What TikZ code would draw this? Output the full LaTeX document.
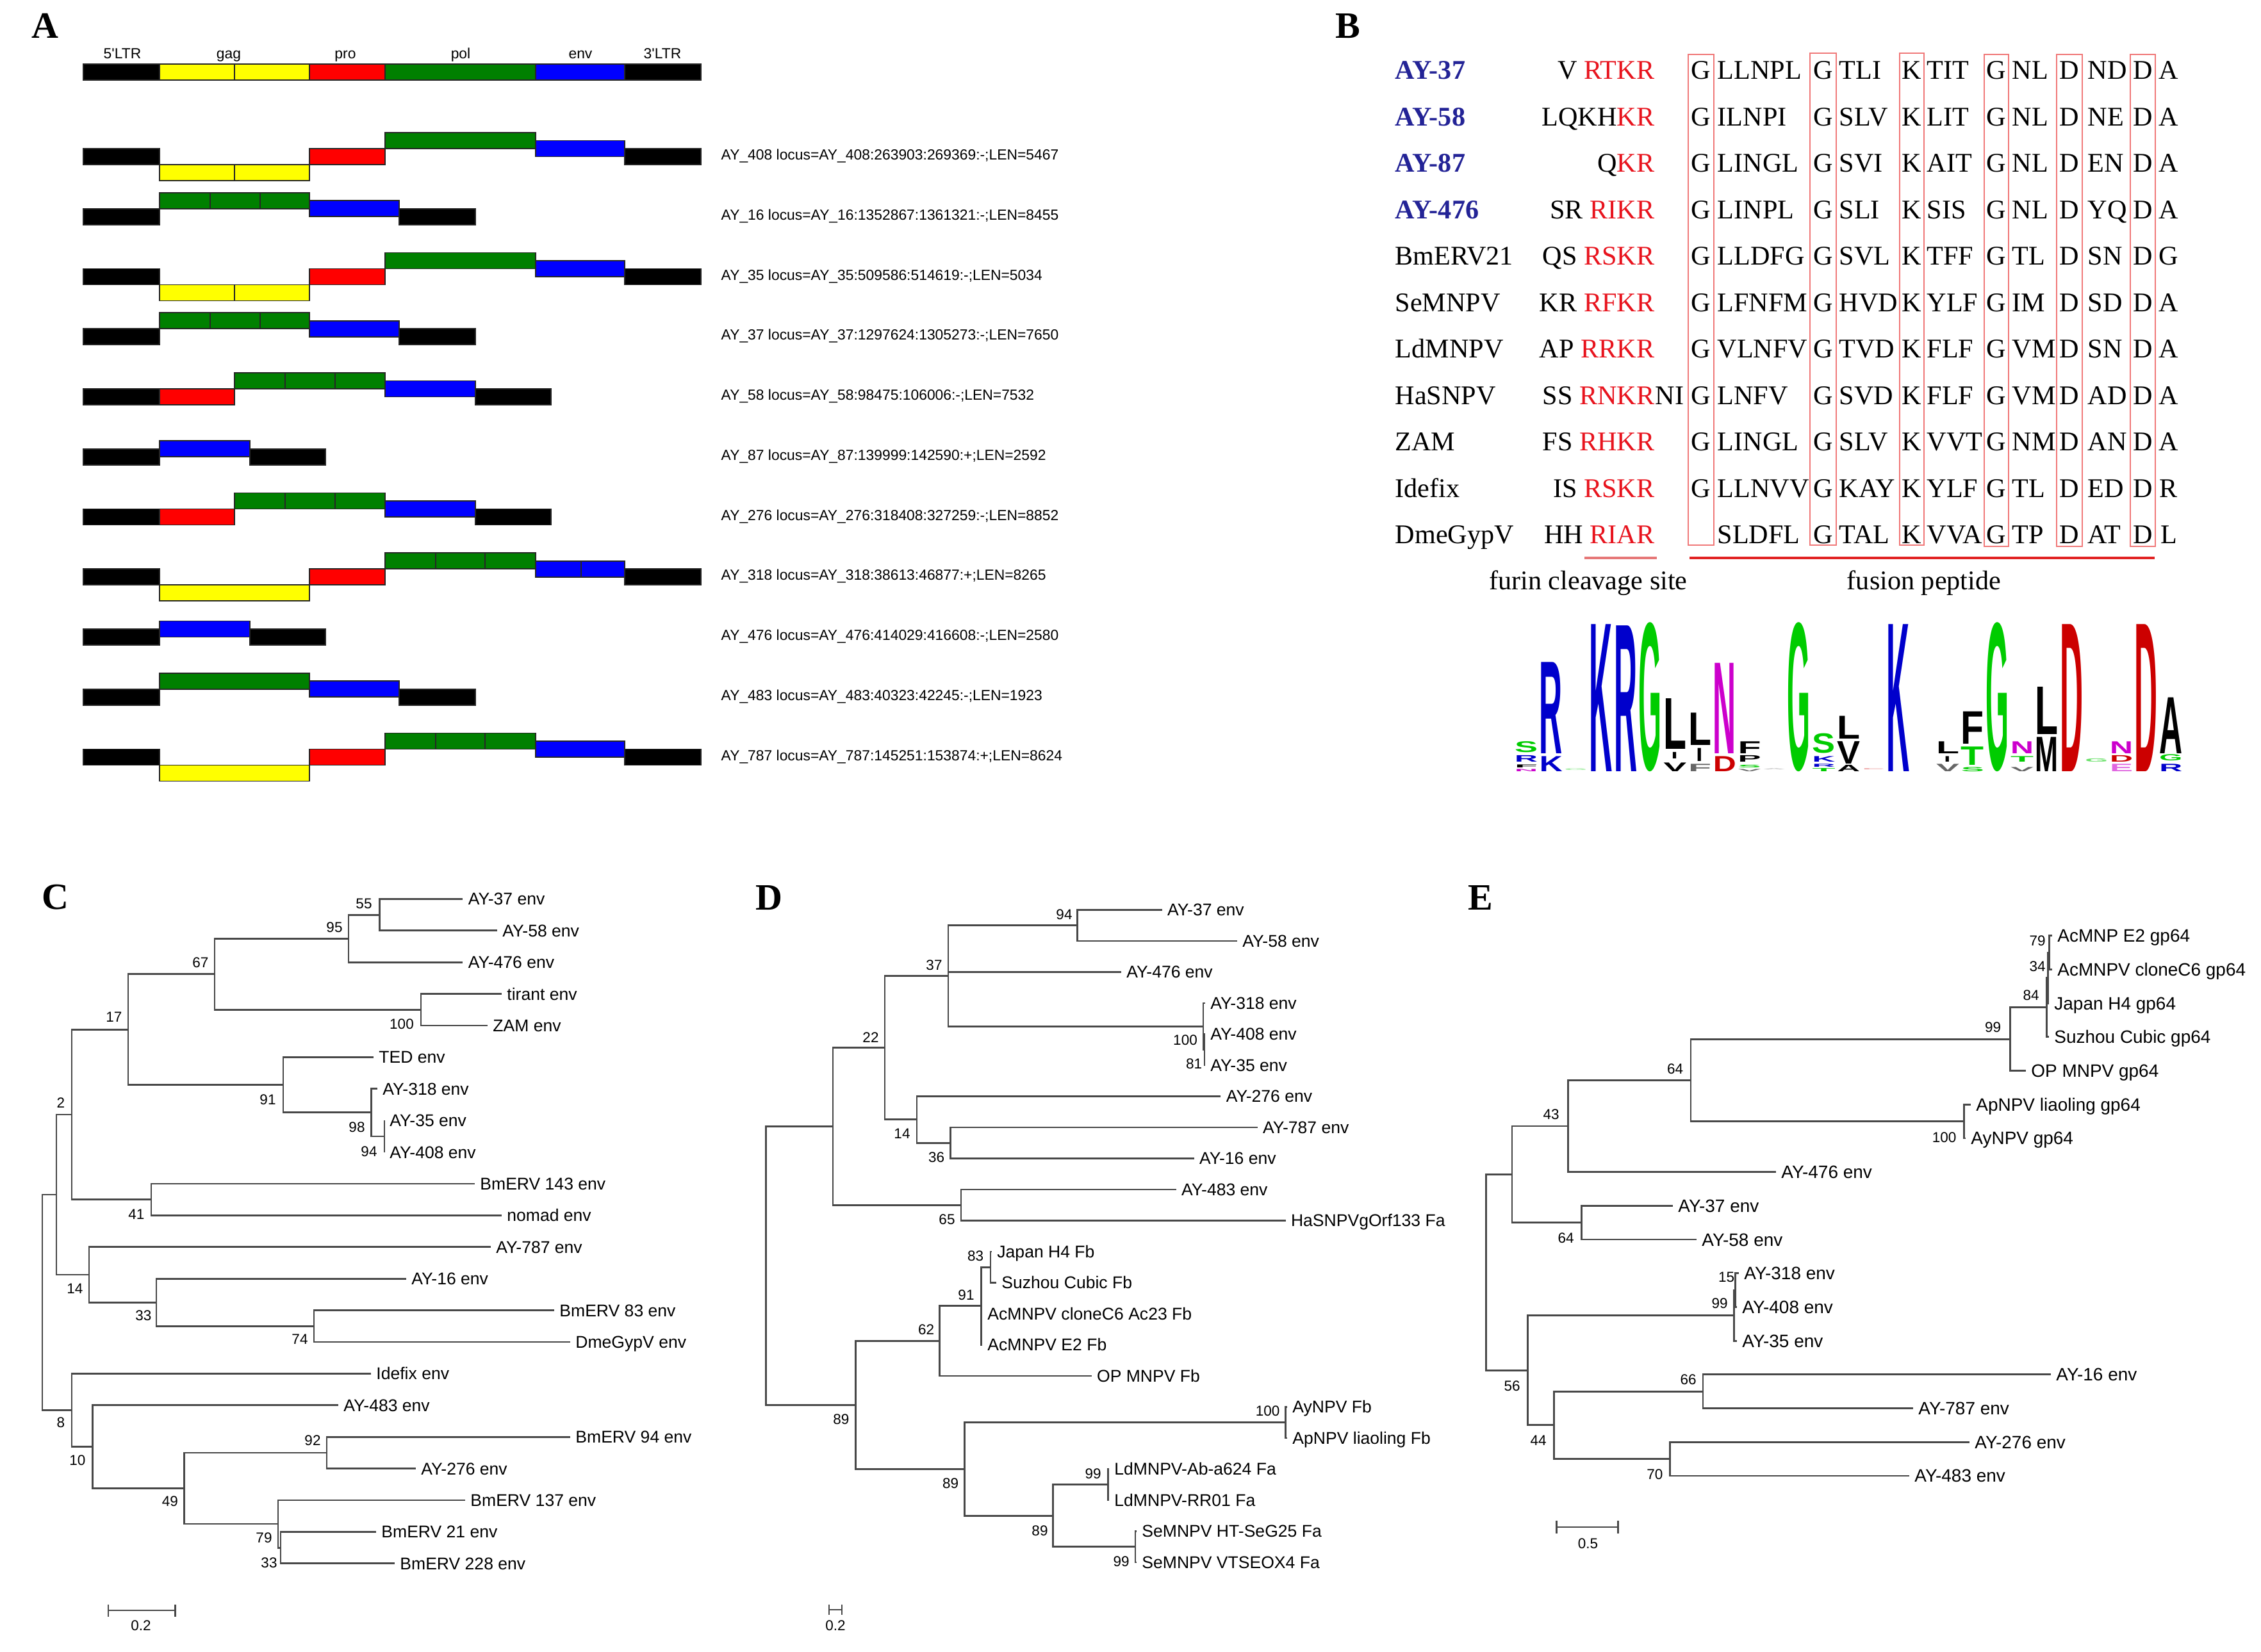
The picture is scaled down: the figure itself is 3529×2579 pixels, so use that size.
\documentclass[tikz,border=0pt]{standalone}
\usepackage{fontspec}
\usepackage{graphicx}
\setmainfont{Liberation Serif}
\newfontfamily\arialf{Liberation Sans}
\usetikzlibrary{calc}
\definecolor{gyel}{RGB}{255,255,0}
\definecolor{gred}{RGB}{255,0,0}
\definecolor{ggrn}{RGB}{0,128,0}
\definecolor{gblu}{RGB}{0,0,255}
\definecolor{bnavy}{RGB}{35,35,150}
\definecolor{fred}{RGB}{232,20,30}
\definecolor{boxred}{RGB}{240,120,120}
\definecolor{lnred}{RGB}{225,35,35}
\definecolor{lnpink}{RGB}{230,120,120}
\definecolor{trc}{RGB}{72,72,72}
\definecolor{lgB}{RGB}{0,0,204}
\definecolor{lgG}{RGB}{0,204,0}
\definecolor{lgR}{RGB}{204,0,0}
\definecolor{lgM}{RGB}{204,0,204}
\newcommand\fA{\arialf\fontsize{6.5}{7.5}\selectfont}
\newcommand\fT{\arialf\fontsize{7.55}{9}\selectfont}
\newcommand\fE{\arialf\fontsize{7.95}{9}\selectfont}
\newcommand\fBs{\arialf\fontsize{6.4}{7.5}\selectfont}
\newcommand\fB{\fontsize{12}{14}\selectfont}
\newcommand\fL{\bfseries\fontsize{16.5}{18}\selectfont}
\newcommand\lgf{\arialf\bfseries}
\newcommand\furR[1]{\textcolor{fred}{#1}}
% panel A boxes
\newcommand\bx[4]{\filldraw[gbox,fill=#4] (#1,#3) rectangle (#2,#3+25);}
\newcommand\dv[2]{\draw[gbox] (#1,#2) -- (#1,#2+25);}
\newcommand\trI[1]{\bx{130}{249}{#1}{black}\bx{249}{483}{#1+25}{gyel}\dv{366}{#1+25}\bx{483}{601}{#1}{gred}\bx{601}{836}{#1-25}{ggrn}\bx{836}{975}{#1-12.5}{gblu}\bx{975}{1094}{#1}{black}}
\newcommand\trII[1]{\bx{130}{249}{#1}{black}\bx{249}{483}{#1-25}{ggrn}\dv{328}{#1-25}\dv{406}{#1-25}\bx{483}{623}{#1-12.5}{gblu}\bx{623}{742}{#1}{black}}
\newcommand\trIII[1]{\bx{130}{249}{#1}{black}\bx{249}{366}{#1}{gred}\bx{366}{601}{#1-25}{ggrn}\dv{445}{#1-25}\dv{523}{#1-25}\bx{601}{742}{#1-12.5}{gblu}\bx{742}{860}{#1}{black}}
\newcommand\trIV[1]{\bx{130}{249}{#1}{black}\bx{249}{390}{#1-12.5}{gblu}\bx{390}{508}{#1}{black}}
\newcommand\trV[1]{\bx{130}{249}{#1}{black}\bx{249}{483}{#1+25}{gyel}\bx{483}{601}{#1}{gred}\bx{601}{836}{#1-25}{ggrn}\dv{680}{#1-25}\dv{757}{#1-25}\bx{836}{975}{#1-12.5}{gblu}\dv{907}{#1-12.5}\bx{975}{1094}{#1}{black}}
\newcommand\trVI[1]{\bx{130}{249}{#1}{black}\bx{249}{483}{#1-25}{ggrn}\bx{483}{623}{#1-12.5}{gblu}\bx{623}{742}{#1}{black}}
\newcommand\trVII[1]{\bx{130}{249}{#1}{black}\bx{249}{483}{#1+25}{gyel}\bx{483}{601}{#1}{gred}\bx{601}{836}{#1-25}{ggrn}\dv{680}{#1-25}\dv{757}{#1-25}\bx{836}{975}{#1-12.5}{gblu}\bx{975}{1094}{#1}{black}}
% panel B sequence columns
\newcommand\bseqA[8]{%
 \node[bt,anchor=base] (#1g1) at (2655,#2) {#3};
 \node[bt,anchor=base west] (#1s1) at (2680,#2) {#4};
 \node[bt,anchor=base] (#1g2) at (2845.5,#2) {#5};
 \node[bt,anchor=base west] (#1s2) at (2870,#2) {#6};
 \node[bt,anchor=base] (#1g3) at (2984,#2) {#7};
 \node[bt,anchor=base west] (#1s3) at (3007,#2) {#8};}
\newcommand\bseqB[8]{%
 \node[bt,anchor=base] (#1g4) at (3116,#2) {#3};
 \node[bt,anchor=base west] (#1s4) at (3140,#2) {#4};
 \node[bt,anchor=base] (#1g5) at (3230,#2) {#5};
 \node[bt,anchor=base west] (#1s5) at (3258,#2) {#6};
 \node[bt,anchor=base] (#1g6) at (3344.5,#2) {#7};
 \node[bt,anchor=base] (#1s6) at (3385,#2) {#8};}
% logo letters
\newcount\lgc
\newcommand\lgl[5]{%
 \global\advance\lgc by 1
 \pgfmathsetmacro\lgx{2362+38.7*(#1-1)+1.5}%
 \pgfmathsetmacro\lgh{max(0.01,(#2-#3-1.4)*0.01)}%
 \node[anchor=south west,inner sep=0pt,text=#5] (lg\the\lgc) at (\lgx,#2-0.7) {\resizebox{0.36cm}{\lgh cm}{\lgf #4}};}
\newcommand\lgI[4]{%
 \global\advance\lgc by 1
 \pgfmathsetmacro\lgx{2362+38.7*(#1-1)+19.35}%
 \pgfmathsetmacro\lgh{max(0.01,(#2-#3-1.4)*0.01)}%
 \node[anchor=south,inner sep=0pt,text=#4] (lg\the\lgc) at (\lgx,#2-0.7) {\resizebox{0.1cm}{\lgh cm}{\lgf I}};}
% tree bracket
\newcommand\tn[3]{\draw[tr] (#2) -| (#1) |- (#3);}
\begin{document}
\begin{tikzpicture}[x=0.01cm,y=-0.01cm,
 gbox/.style={draw=black!85,line width=0.45pt},
 alab/.style={anchor=west,inner sep=0pt,font=\fA,text height=4.65pt,text depth=0pt},
 tlab/.style={inner sep=0pt,font=\fA,text height=4.65pt,text depth=0pt},
 plab/.style={inner sep=0pt,font=\fL,text height=11.1pt,text depth=0pt},
 bt/.style={inner sep=0pt,font=\fB},
 rbox/.style={draw=boxred,line width=0.45pt},
 tr/.style={draw=trc,line width=0.8pt},
 labC/.style={anchor=west,inner xsep=2.2pt,inner ysep=0pt,font=\fT,text height=5.4pt,text depth=0pt},
 labE/.style={anchor=west,inner xsep=2.2pt,inner ysep=0pt,font=\fE,text height=5.7pt,text depth=0pt},
 bsn/.style={inner sep=0pt,font=\fBs,text height=4.55pt,text depth=0pt}]
\fill[white] (0,0) rectangle (3529,2579);
\useasboundingbox (0,0) rectangle (3529,2579);

% ---------------- panel letters
\node[plab] (pA) at (70,40) {A};
\node[plab] (pB) at (2104,40) {B};
\node[plab] (pC) at (86,1400) {C};
\node[plab] (pD) at (1200,1401) {D};
\node[plab] (pE) at (2311,1401) {E};

% ---------------- panel A
\node[tlab] (hLTR5) at (191,83) {5\textquotesingle LTR};
\node[tlab] (hgag) at (357,83) {gag};
\node[tlab] (hpro) at (539,83) {pro};
\node[tlab] (hpol) at (719,83) {pol};
\node[tlab] (henv) at (906,83) {env};
\node[tlab] (hLTR3) at (1034,83) {3\textquotesingle LTR};
\bx{130}{249}{100}{black}\bx{249}{483}{100}{gyel}\dv{366}{100}\bx{483}{601}{100}{gred}\bx{601}{836}{100}{ggrn}\bx{836}{975}{100}{gblu}\bx{975}{1094}{100}{black}

\trI{232}
\trII{325.75}
\trI{419.5}
\trII{513.25}
\trIII{607}
\trIV{700.75}
\trIII{794.5}
\trV{888.25}
\trIV{982}
\trVI{1075.75}
\trVII{1169.5}
\node[alab] (a1) at (1125,241.5) {AY\_408 locus=AY\_408:263903:269369:-;LEN=5467};
\node[alab] (a2) at (1125,335.25) {AY\_16 locus=AY\_16:1352867:1361321:-;LEN=8455};
\node[alab] (a3) at (1125,429) {AY\_35 locus=AY\_35:509586:514619:-;LEN=5034};
\node[alab] (a4) at (1125,522.75) {AY\_37 locus=AY\_37:1297624:1305273:-;LEN=7650};
\node[alab] (a5) at (1125,616.5) {AY\_58 locus=AY\_58:98475:106006:-;LEN=7532};
\node[alab] (a6) at (1125,710.25) {AY\_87 locus=AY\_87:139999:142590:+;LEN=2592};
\node[alab] (a7) at (1125,804) {AY\_276 locus=AY\_276:318408:327259:-;LEN=8852};
\node[alab] (a8) at (1125,897.75) {AY\_318 locus=AY\_318:38613:46877:+;LEN=8265};
\node[alab] (a9) at (1125,991.5) {AY\_476 locus=AY\_476:414029:416608:-;LEN=2580};
\node[alab] (a10) at (1125,1085.25) {AY\_483 locus=AY\_483:40323:42245:-;LEN=1923};
\node[alab] (a11) at (1125,1179) {AY\_787 locus=AY\_787:145251:153874:+;LEN=8624};

% ---------------- panel B
\draw[rbox] (2635,85) rectangle (2675,851);
\draw[rbox] (2825,83) rectangle (2866,851);
\draw[rbox] (2965,83) rectangle (3003,851);
\draw[rbox] (3097,85) rectangle (3135,853);
\draw[rbox] (3210,85) rectangle (3250,853);
\draw[rbox] (3325,85) rectangle (3364,853);

\node[bt,anchor=base west,text=bnavy,font=\fB\bfseries] (n1) at (2177,124) {AY-37};
\node[bt,anchor=base west,text=bnavy,font=\fB\bfseries] (n2) at (2177,196.5) {AY-58};
\node[bt,anchor=base west,text=bnavy,font=\fB\bfseries] (n3) at (2177,269) {AY-87};
\node[bt,anchor=base west,text=bnavy,font=\fB\bfseries] (n4) at (2177,341.5) {AY-476};
\node[bt,anchor=base west] (n5) at (2177,414) {BmERV21};
\node[bt,anchor=base west] (n6) at (2177,486.5) {SeMNPV};
\node[bt,anchor=base west] (n7) at (2177,559) {LdMNPV};
\node[bt,anchor=base west] (n8) at (2177,631.5) {HaSNPV};
\node[bt,anchor=base west] (n9) at (2177,704) {ZAM};
\node[bt,anchor=base west] (n10) at (2177,776.5) {Idefix};
\node[bt,anchor=base west] (n11) at (2177,848) {DmeGypV};

\node[bt,anchor=base east] (f1) at (2583,124) {V \furR{RTKR}};
\node[bt,anchor=base east] (f2) at (2583,196.5) {LQKH\furR{KR}};
\node[bt,anchor=base east] (f3) at (2583,269) {Q\furR{KR}};
\node[bt,anchor=base east] (f4) at (2583,341.5) {SR \furR{RIKR}};
\node[bt,anchor=base east] (f5) at (2583,414) {QS \furR{RSKR}};
\node[bt,anchor=base east] (f6) at (2583,486.5) {KR \furR{RFKR}};
\node[bt,anchor=base east] (f7) at (2583,559) {AP \furR{RRKR}};
\node[bt,anchor=base east] (f8) at (2583,631.5) {SS \furR{RNKR}};
\node[bt,anchor=base west] (f8b) at (f8.base east) {NI};
\node[bt,anchor=base east] (f9) at (2583,704) {FS \furR{RHKR}};
\node[bt,anchor=base east] (f10) at (2583,776.5) {IS \furR{RSKR}};
\node[bt,anchor=base east] (f11) at (2583,848) {HH \furR{RIAR}};

\bseqA{r1}{124}{G}{LLNPL}{G}{TLI}{K}{TIT}
\bseqB{r1}{124}{G}{NL}{D}{ND}{D}{A}
\bseqA{r2}{196.5}{G}{ILNPI}{G}{SLV}{K}{LIT}
\bseqB{r2}{196.5}{G}{NL}{D}{NE}{D}{A}
\bseqA{r3}{269}{G}{LINGL}{G}{SVI}{K}{AIT}
\bseqB{r3}{269}{G}{NL}{D}{EN}{D}{A}
\bseqA{r4}{341.5}{G}{LINPL}{G}{SLI}{K}{SIS}
\bseqB{r4}{341.5}{G}{NL}{D}{YQ}{D}{A}
\bseqA{r5}{414}{G}{LLDFG}{G}{SVL}{K}{TFF}
\bseqB{r5}{414}{G}{TL}{D}{SN}{D}{G}
\bseqA{r6}{486.5}{G}{LFNFM}{G}{HVD}{K}{YLF}
\bseqB{r6}{486.5}{G}{IM}{D}{SD}{D}{A}
\bseqA{r7}{559}{G}{VLNFV}{G}{TVD}{K}{FLF}
\bseqB{r7}{559}{G}{VM}{D}{SN}{D}{A}
\bseqA{r8}{631.5}{G}{LNFV}{G}{SVD}{K}{FLF}
\bseqB{r8}{631.5}{G}{VM}{D}{AD}{D}{A}
\bseqA{r9}{704}{G}{LINGL}{G}{SLV}{K}{VVT}
\bseqB{r9}{704}{G}{NM}{D}{AN}{D}{A}
\bseqA{r10}{776.5}{G}{LLNVV}{G}{KAY}{K}{YLF}
\bseqB{r10}{776.5}{G}{TL}{D}{ED}{D}{R}
\bseqA{r11}{848}{}{SLDFL}{G}{TAL}{K}{VVA}
\bseqB{r11}{848}{G}{TP}{D}{AT}{D}{L}

\coordinate (fu1) at (2473,871); \coordinate (fu2) at (2586,871);
\coordinate (fp1) at (2637,871); \coordinate (fp2) at (3363,871);
\draw[lnpink,line width=0.9pt] (fu1) -- (fu2);
\draw[lnred,line width=0.9pt] (fp1) -- (fp2);
\node[bt] (tfur) at (2479,910) {furin cleavage site};
\node[bt] (tfus) at (3003,910) {fusion peptide};

% logo
\lgl{1}{1206}{1201}{N}{lgM}\lgl{1}{1200}{1194}{F}{black}\lgl{1}{1191}{1179.5}{R}{lgB}\lgl{1}{1176}{1157.7}{S}{lgG}
\lgl{2}{1206}{1181}{K}{lgB}\lgl{2}{1178}{1034}{R}{lgB}
\lgl{3}{1204}{1200}{G}{lgG!40}
\lgl{4}{1206}{975}{K}{lgB}
\lgl{5}{1206}{977}{R}{lgB}
\lgl{6}{1206}{975}{G}{lgG}
\lgl{7}{1206}{1191}{V}{black}\lgI{7}{1186}{1174.5}{black}\lgl{7}{1171}{1090.7}{L}{black}
\lgl{8}{1206}{1193}{F}{black!60}\lgI{8}{1189.5}{1167.75}{black}\lgl{8}{1164.4}{1112.5}{L}{black}
\lgl{9}{1206}{1181}{D}{lgR}\lgl{9}{1178}{1035.4}{N}{lgM}
\lgl{10}{1206}{1201}{V}{black!60}\lgl{10}{1199.6}{1194}{S}{lgG}\lgl{10}{1191}{1179.5}{P}{black}\lgl{10}{1177.8}{1157.7}{F}{black}
\lgl{11}{1204}{1201}{A}{black!30}
\lgl{12}{1206}{975}{G}{lgG}
\lgl{13}{1206}{1199.6}{T}{lgG}\lgl{13}{1199}{1193}{R}{lgB}\lgl{13}{1191}{1181}{K}{lgB}\lgl{13}{1177.8}{1146}{S}{lgG}
\lgl{14}{1206}{1194.5}{A}{black}\lgl{14}{1194}{1157.7}{V}{black}\lgl{14}{1154.4}{1117.5}{L}{black}
\lgl{15}{1204}{1201}{E}{lgR!40}
\lgl{16}{1206}{975}{K}{lgB}
\lgl{18}{1206}{1193}{V}{black!60}\lgI{18}{1191}{1181}{black}\lgl{18}{1177.8}{1157.7}{L}{black}
\lgl{19}{1206}{1198}{S}{lgG}\lgl{19}{1196}{1166}{T}{lgG}\lgl{19}{1162.7}{1110.8}{F}{black}
\lgl{20}{1206}{975}{G}{lgG}
\lgl{21}{1206}{1198}{V}{black!60}\lgl{21}{1191}{1181}{T}{lgG}\lgl{21}{1177.8}{1157.7}{N}{lgM}
\lgl{22}{1206}{1151}{M}{black}\lgl{22}{1147.7}{1072.3}{L}{black}
\lgl{23}{1206}{975}{D}{lgR}
\lgl{24}{1191}{1184.5}{G}{lgG!60}
\lgl{25}{1206}{1193}{E}{lgM!60}\lgl{25}{1191}{1179.5}{D}{lgR}\lgl{25}{1177.8}{1157.7}{N}{lgM}
\lgl{26}{1206}{975}{D}{lgR}
\lgl{27}{1206}{1193}{R}{lgB}\lgl{27}{1189.5}{1178.5}{G}{lgG}\lgl{27}{1177.8}{1089}{A}{black}

% ---------------- panel C tree
\node[labC] (C1) at (722.4,1403.4) {AY-37 env};
\node[labC] (C2) at (776,1452.8) {AY-58 env};
\node[labC] (C3) at (722.4,1502.2) {AY-476 env};
\node[labC] (C4) at (783,1551.6) {tirant env};
\node[labC] (C5) at (761,1601) {ZAM env};
\node[labC] (C6) at (583,1650.4) {TED env};
\node[labC] (C7) at (589,1699.8) {AY-318 env};
\node[labC] (C8) at (600,1749.2) {AY-35 env};
\node[labC] (C9) at (600,1798.6) {AY-408 env};
\node[labC] (C10) at (741,1848) {BmERV 143 env};
\node[labC] (C11) at (783,1897.4) {nomad env};
\node[labC] (C12) at (766,1946.8) {AY-787 env};
\node[labC] (C13) at (634,1996.2) {AY-16 env};
\node[labC] (C14) at (865,2045.6) {BmERV 83 env};
\node[labC] (C15) at (890,2095) {DmeGypV env};
\node[labC] (C16) at (579,2144.4) {Idefix env};
\node[labC] (C17) at (528,2193.8) {AY-483 env};
\node[labC] (C18) at (890,2243.2) {BmERV 94 env};
\node[labC] (C19) at (649,2292.6) {AY-276 env};
\node[labC] (C20) at (726,2342) {BmERV 137 env};
\node[labC] (C21) at (587,2391.4) {BmERV 21 env};
\node[labC] (C22) at (616,2440.8) {BmERV 228 env};
\coordinate (c55) at (592.6,1428.1); \tn{c55}{C1.west}{C2.west}
\coordinate (c95) at (544,1465.15); \tn{c95}{c55}{C3.west}
\coordinate (c100) at (657,1576.3); \tn{c100}{C4.west}{C5.west}
\coordinate (c67) at (335,1520.7); \tn{c67}{c95}{c100}
\coordinate (c94) at (600,1773.9); \tn{c94}{C8.west}{C9.west}
\coordinate (c98) at (579.4,1736.85); \tn{c98}{C7.west}{c94}
\coordinate (c91) at (442,1693.6); \tn{c91}{C6.west}{c98}
\coordinate (c17) at (200,1607.2); \tn{c17}{c67}{c91}
\coordinate (c41) at (236,1872.7); \tn{c41}{C10.west}{C11.west}
\coordinate (c2) at (112,1739.9); \tn{c2}{c17}{c41}
\coordinate (c74) at (490,2070.3); \tn{c74}{C14.west}{C15.west}
\coordinate (c33a) at (244,2033.25); \tn{c33a}{C13.west}{c74}
\coordinate (c14) at (139,1990); \tn{c14}{C12.west}{c33a}
\coordinate (cA) at (88,1865); \tn{cA}{c2}{c14}
\coordinate (c92) at (510,2267.9); \tn{c92}{C18.west}{C19.west}
\coordinate (c33b) at (438,2416.1); \tn{c33b}{C21.west}{C22.west}
\coordinate (c79) at (434,2379.05); \tn{c79}{C20.west}{c33b}
\coordinate (c49) at (287.5,2323.5); \tn{c49}{c92}{c79}
\coordinate (c10) at (144.5,2258.65); \tn{c10}{C17.west}{c49}
\coordinate (c8) at (112,2201.5); \tn{c8}{C16.west}{c10}
\coordinate (cR) at (66,2033); \tn{cR}{cA}{c8}
\node[bsn] (bC1) at (568,1410) {55};
\node[bsn] (bC2) at (522,1447) {95};
\node[bsn] (bC3) at (627,1598) {100};
\node[bsn] (bC4) at (313,1502) {67};
\node[bsn] (bC5) at (576,1797) {94};
\node[bsn] (bC6) at (557,1759) {98};
\node[bsn] (bC7) at (418,1716) {91};
\node[bsn] (bC8) at (178,1587) {17};
\node[bsn] (bC9) at (213,1895.7) {41};
\node[bsn] (bC10) at (95,1721.7) {2};
\node[bsn] (bC11) at (117,2011.7) {14};
\node[bsn] (bC12) at (224,2053.7) {33};
\node[bsn] (bC13) at (468,2090.5) {74};
\node[bsn] (bC14) at (95,2220.4) {8};
\node[bsn] (bC15) at (121,2279) {10};
\node[bsn] (bC16) at (265.5,2343.8) {49};
\node[bsn] (bC17) at (488,2248.6) {92};
\node[bsn] (bC18) at (412,2400) {79};
\node[bsn] (bC19) at (420,2439) {33};
\draw[tr] (169,2505) -- (169,2523.5) (169,2514) -- (273.6,2514) (273.6,2505) -- (273.6,2523.5);
\node[bsn] (sC) at (220,2537) {0.2};

% ---------------- panel D tree
\node[labC] (D1) at (1813.7,1420.4) {AY-37 env};
\node[labC] (D2) at (1931,1468.9) {AY-58 env};
\node[labC] (D3) at (1750,1517.4) {AY-476 env};
\node[labC] (D4) at (1881,1565.9) {AY-318 env};
\node[labC] (D5) at (1881,1614.4) {AY-408 env};
\node[labC] (D6) at (1881,1662.9) {AY-35 env};
\node[labC] (D7) at (1905.4,1711.4) {AY-276 env};
\node[labC] (D8) at (1962.6,1759.9) {AY-787 env};
\node[labC] (D9) at (1863.6,1808.4) {AY-16 env};
\node[labC] (D10) at (1835.7,1856.9) {AY-483 env};
\node[labC] (D11) at (2006.6,1905.4) {HaSNPVgOrf133 Fa};
\node[labC] (D12) at (1548,1953.9) {Japan H4 Fb};
\node[labC] (D13) at (1555,2002.4) {Suzhou Cubic Fb};
\node[labC] (D14) at (1533,2050.9) {AcMNPV cloneC6 Ac23 Fb};
\node[labC] (D15) at (1533,2099.4) {AcMNPV E2 Fb};
\node[labC] (D16) at (1703.7,2147.9) {OP MNPV Fb};
\node[labC] (D17) at (2009,2196.4) {AyNPV Fb};
\node[labC] (D18) at (2009,2244.9) {ApNPV liaoling Fb};
\node[labC] (D19) at (1731,2293.4) {LdMNPV-Ab-a624 Fa};
\node[labC] (D20) at (1731,2341.9) {LdMNPV-RR01 Fa};
\node[labC] (D21) at (1774,2390.4) {SeMNPV HT-SeG25 Fa};
\node[labC] (D22) at (1774,2438.9) {SeMNPV VTSEOX4 Fa};
\coordinate (d94) at (1681.7,1444.65); \tn{d94}{D1.west}{D2.west}
\coordinate (d81) at (1880,1638.65); \tn{d81}{D5.west}{D6.west}
\coordinate (d100) at (1878,1602.3); \tn{d100}{D4.west}{d81}
\coordinate (d37) at (1480,1523.5); \tn{d37}{d94}{d100} \draw[tr] (d37 |- D3.west) -- (D3.west);
\coordinate (d36) at (1483.7,1784.15); \tn{d36}{D8.west}{D9.west}
\coordinate (d14) at (1431,1747.8); \tn{d14}{D7.west}{d36}
\coordinate (d22) at (1381,1635.65); \tn{d22}{d37}{d14}
\coordinate (d65) at (1500,1881.15); \tn{d65}{D10.west}{D11.west}
\coordinate (dT) at (1300,1758.4); \tn{dT}{d22}{d65}
\coordinate (d83) at (1546,1978.15); \tn{d83}{D12.west}{D13.west}
\coordinate (d91) at (1531.4,2038.8); \tn{d91}{d83}{D15.west} \draw[tr] (d91 |- D14.west) -- (D14.west);
\coordinate (d62) at (1466.8,2093.35); \tn{d62}{d91}{D16.west}
\coordinate (d100b) at (2006.6,2220.65); \tn{d100b}{D17.west}{D18.west}
\coordinate (d99a) at (1729.4,2317.65); \tn{d99a}{D19.west}{D20.west}
\coordinate (d99b) at (1772,2414.65); \tn{d99b}{D21.west}{D22.west}
\coordinate (d89c) at (1643.6,2366.15); \tn{d89c}{d99a}{d99b}
\coordinate (d89b) at (1505.7,2293.4); \tn{d89b}{d100b}{d89c}
\coordinate (d89a) at (1335.5,2193.4); \tn{d89a}{d62}{d89b}
\coordinate (dR) at (1195.5,1976); \tn{dR}{dT}{d89a}
\node[bsn] (bD1) at (1661,1427) {94};
\node[bsn] (bD2) at (1458,1506) {37};
\node[bsn] (bD3) at (1850,1623) {100};
\node[bsn] (bD4) at (1863.6,1660) {81};
\node[bsn] (bD5) at (1359,1619) {22};
\node[bsn] (bD6) at (1408,1769) {14};
\node[bsn] (bD7) at (1461.7,1806.7) {36};
\node[bsn] (bD8) at (1478,1903.6) {65};
\node[bsn] (bD9) at (1522.6,1960.6) {83};
\node[bsn] (bD10) at (1508,2021) {91};
\node[bsn] (bD11) at (1445.6,2075.4) {62};
\node[bsn] (bD12) at (1312.8,2215) {89};
\node[bsn] (bD13) at (1978.7,2202) {100};
\node[bsn] (bD14) at (1483.7,2315.7) {89};
\node[bsn] (bD15) at (1623,2389) {89};
\node[bsn] (bD16) at (1706,2300.5) {99};
\node[bsn] (bD17) at (1750,2437) {99};
\draw[tr] (1294,2505) -- (1294,2521) (1294,2513) -- (1314,2513) (1314,2505) -- (1314,2521);
\node[bsn] (sD) at (1304,2537) {0.2};

% ---------------- panel E tree
\node[labE] (E1) at (3203,1460.7) {AcMNP E2 gp64};
\node[labE] (E2) at (3203,1513.4) {AcMNPV cloneC6 gp64};
\node[labE] (E3) at (3198,1566.1) {Japan H4 gp64};
\node[labE] (E4) at (3198,1618.8) {Suzhou Cubic gp64};
\node[labE] (E5) at (3162,1671.5) {OP MNPV gp64};
\node[labE] (E6) at (3076,1724.2) {ApNPV liaoling gp64};
\node[labE] (E7) at (3068,1776.9) {AyNPV gp64};
\node[labE] (E8) at (2772,1829.6) {AY-476 env};
\node[labE] (E9) at (2611,1882.3) {AY-37 env};
\node[labE] (E10) at (2648,1935) {AY-58 env};
\node[labE] (E11) at (2714,1987.7) {AY-318 env};
\node[labE] (E12) at (2711,2040.4) {AY-408 env};
\node[labE] (E13) at (2711,2093.1) {AY-35 env};
\node[labE] (E14) at (3201,2145.8) {AY-16 env};
\node[labE] (E15) at (2986,2198.5) {AY-787 env};
\node[labE] (E16) at (3074,2251.2) {AY-276 env};
\node[labE] (E17) at (2980,2303.9) {AY-483 env};
\coordinate (e79) at (3198.5,1487.05); \tn{e79}{E1.west}{E2.west}
\coordinate (e34) at (3196.5,1526.6); \tn{e34}{e79}{E3.west}
\coordinate (e84) at (3194.6,1572.7); \tn{e84}{e34}{E4.west}
\coordinate (e99) at (3137.5,1622.1); \tn{e99}{e84}{E5.west}
\coordinate (e100) at (3065.7,1750.55); \tn{e100}{E6.west}{E7.west}
\coordinate (e64) at (2639,1686.3); \tn{e64}{e99}{e100}
\coordinate (e43) at (2447.4,1757.95); \tn{e43}{e64}{E8.west}
\coordinate (e64b) at (2468.6,1908.65); \tn{e64b}{E9.west}{E10.west}
\coordinate (eX) at (2360,1833.3); \tn{eX}{e43}{e64b}
\coordinate (e15) at (2708.5,2014.05); \tn{e15}{E11.west}{E12.west}
\coordinate (e99b) at (2706.8,2053.6); \tn{e99b}{e15}{E13.west}
\coordinate (e66) at (2657.9,2172.15); \tn{e66}{E14.west}{E15.west}
\coordinate (e70) at (2606.5,2277.55); \tn{e70}{E16.west}{E17.west}
\coordinate (e44) at (2425.4,2224.85); \tn{e44}{e66}{e70}
\coordinate (e56) at (2384.6,2139.2); \tn{e56}{e99b}{e44}
\coordinate (eR) at (2319.3,1986.25); \tn{eR}{eX}{e56}
\node[bsn] (bE1) at (3180,1468) {79};
\node[bsn] (bE2) at (3180,1508) {34};
\node[bsn] (bE3) at (3170,1553.6) {84};
\node[bsn] (bE4) at (3110.6,1603) {99};
\node[bsn] (bE5) at (3034.7,1775) {100};
\node[bsn] (bE6) at (2614.6,1668) {64};
\node[bsn] (bE7) at (2421,1739.5) {43};
\node[bsn] (bE8) at (2444,1932.5) {64};
\node[bsn] (bE9) at (2694.6,1993) {15};
\node[bsn] (bE10) at (2684,2034) {99};
\node[bsn] (bE11) at (2360,2163) {56};
\node[bsn] (bE12) at (2401,2248.6) {44};
\node[bsn] (bE13) at (2635,2153.3) {66};
\node[bsn] (bE14) at (2582.8,2301.8) {70};
\draw[tr] (2429.5,2374) -- (2429.5,2394) (2429.5,2384) -- (2525.7,2384) (2525.7,2374) -- (2525.7,2394);
\node[bsn] (sE) at (2478.4,2409) {0.5};
\end{tikzpicture}
\end{document}
